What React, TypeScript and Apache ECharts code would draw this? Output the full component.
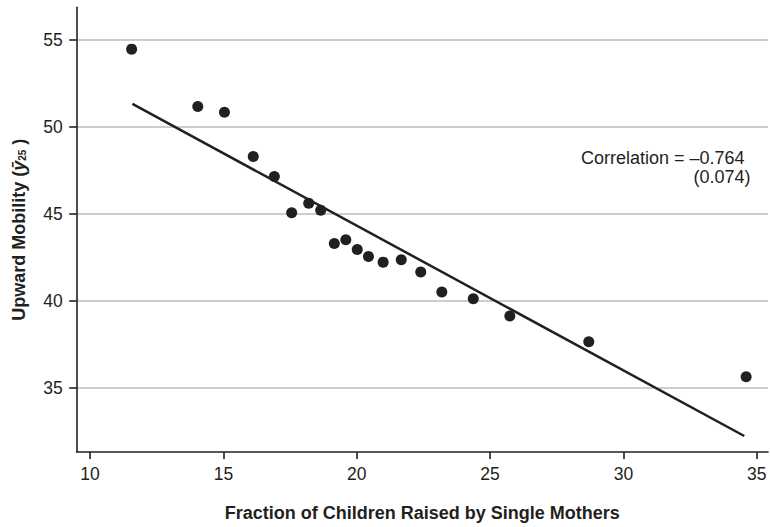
import React, { useEffect, useRef } from "react";
import * as echarts from "echarts";

const singleMotherShare = [
  11.56, 14.04, 15.04, 16.12, 16.91, 17.56, 18.2, 18.65, 19.16, 19.59,
  20.02, 20.44, 20.99, 21.67, 22.4, 23.19, 24.37, 25.74, 28.7, 34.6,
];
const upwardMobility = [
  54.47, 51.17, 50.84, 48.29, 47.14, 45.06, 45.61, 45.21, 43.29, 43.51,
  42.95, 42.55, 42.22, 42.36, 41.65, 40.5, 40.11, 39.12, 37.64, 35.63,
];
const fitLineX = [11.59, 34.53];
const fitLineY = [51.32, 32.22];
const xTicks = [10, 15, 20, 25, 30, 35];
const yTicks = [35, 40, 45, 50, 55];
const xTitle = "Fraction of Children Raised by Single Mothers";
const correlationText = "Correlation = \u20130.764";
const seText = "(0.074)";

const INK = "#231f20";
const FONT = "'Liberation Sans', Arial, Helvetica, sans-serif";

export default function App() {
  const ref = useRef<HTMLDivElement>(null);
  useEffect(() => {
    if (!ref.current) return;
    const chart = echarts.init(ref.current, null, { renderer: "svg" });
    const points = singleMotherShare.map((x, i) => [x, upwardMobility[i]]);
    const fit = fitLineX.map((x, i) => [x, fitLineY[i]]);
    chart.setOption({
      animation: false,
      textStyle: { fontFamily: FONT },
      grid: { left: 76.7, right: 2, top: 7.4, bottom: 74.7, containLabel: false },
      xAxis: {
        type: "value",
        min: 9.5,
        max: 35.42,
        axisLine: { show: true, lineStyle: { color: INK, width: 1.6 } },
        axisTick: { show: true, length: 7, customValues: xTicks, lineStyle: { color: INK, width: 1.6 } },
        axisLabel: { customValues: xTicks, color: INK, fontSize: 17.5, margin: 13, fontFamily: FONT },
        splitLine: { show: false },
        name: xTitle,
        nameLocation: "middle",
        nameGap: 52,
        nameTextStyle: { fontSize: 18, fontWeight: "bold", color: INK, fontFamily: FONT },
      },
      yAxis: {
        type: "value",
        min: 31.3,
        max: 56.87,
        axisLine: { show: true, lineStyle: { color: INK, width: 1.6 } },
        axisTick: { show: true, length: 7.5, customValues: yTicks, lineStyle: { color: INK, width: 1.6 } },
        axisLabel: { customValues: yTicks, color: INK, fontSize: 17.5, margin: 14, fontFamily: FONT },
        splitLine: { show: true, lineStyle: { color: "#bdbdbd", width: 1.5 } },
        name: "{t|Upward Mobility (}{y|\u0233}{s|25}{t| )}",
        nameLocation: "middle",
        nameRotate: 90,
        nameGap: 49,
        nameTextStyle: {
          color: INK,
          fontFamily: FONT,
          rich: {
            t: { fontSize: 18, fontWeight: "bold", color: INK, fontFamily: FONT },
            y: { fontSize: 18, fontStyle: "italic", fontWeight: "bold", color: INK, fontFamily: FONT },
            s: { fontSize: 10, fontWeight: "bold", color: INK, fontFamily: FONT, verticalAlign: "bottom" },
          },
        },
      },
      graphic: [
        {
          type: "text",
          right: 770 - 744.5,
          top: 149,
          style: { text: correlationText, fill: INK, font: `18px ${FONT}`, textAlign: "right" },
        },
        {
          type: "text",
          right: 770 - 750.5,
          top: 168,
          style: { text: seText, fill: INK, font: `18px ${FONT}`, textAlign: "right" },
        },
      ],
      series: [
        {
          type: "line",
          data: fit,
          showSymbol: false,
          symbol: "none",
          lineStyle: { color: INK, width: 2.5 },
          z: 2,
          silent: true,
        },
        {
          type: "scatter",
          data: points,
          symbol: "circle",
          symbolSize: 11,
          itemStyle: { color: INK, opacity: 1 },
          z: 3,
        },
      ],
    });
    return () => chart.dispose();
  }, []);
  return (
    <div
      ref={ref}
      style={{ position: "absolute", left: 0, top: 0, width: 770, height: 527, background: "#fff" }}
    />
  );
}
